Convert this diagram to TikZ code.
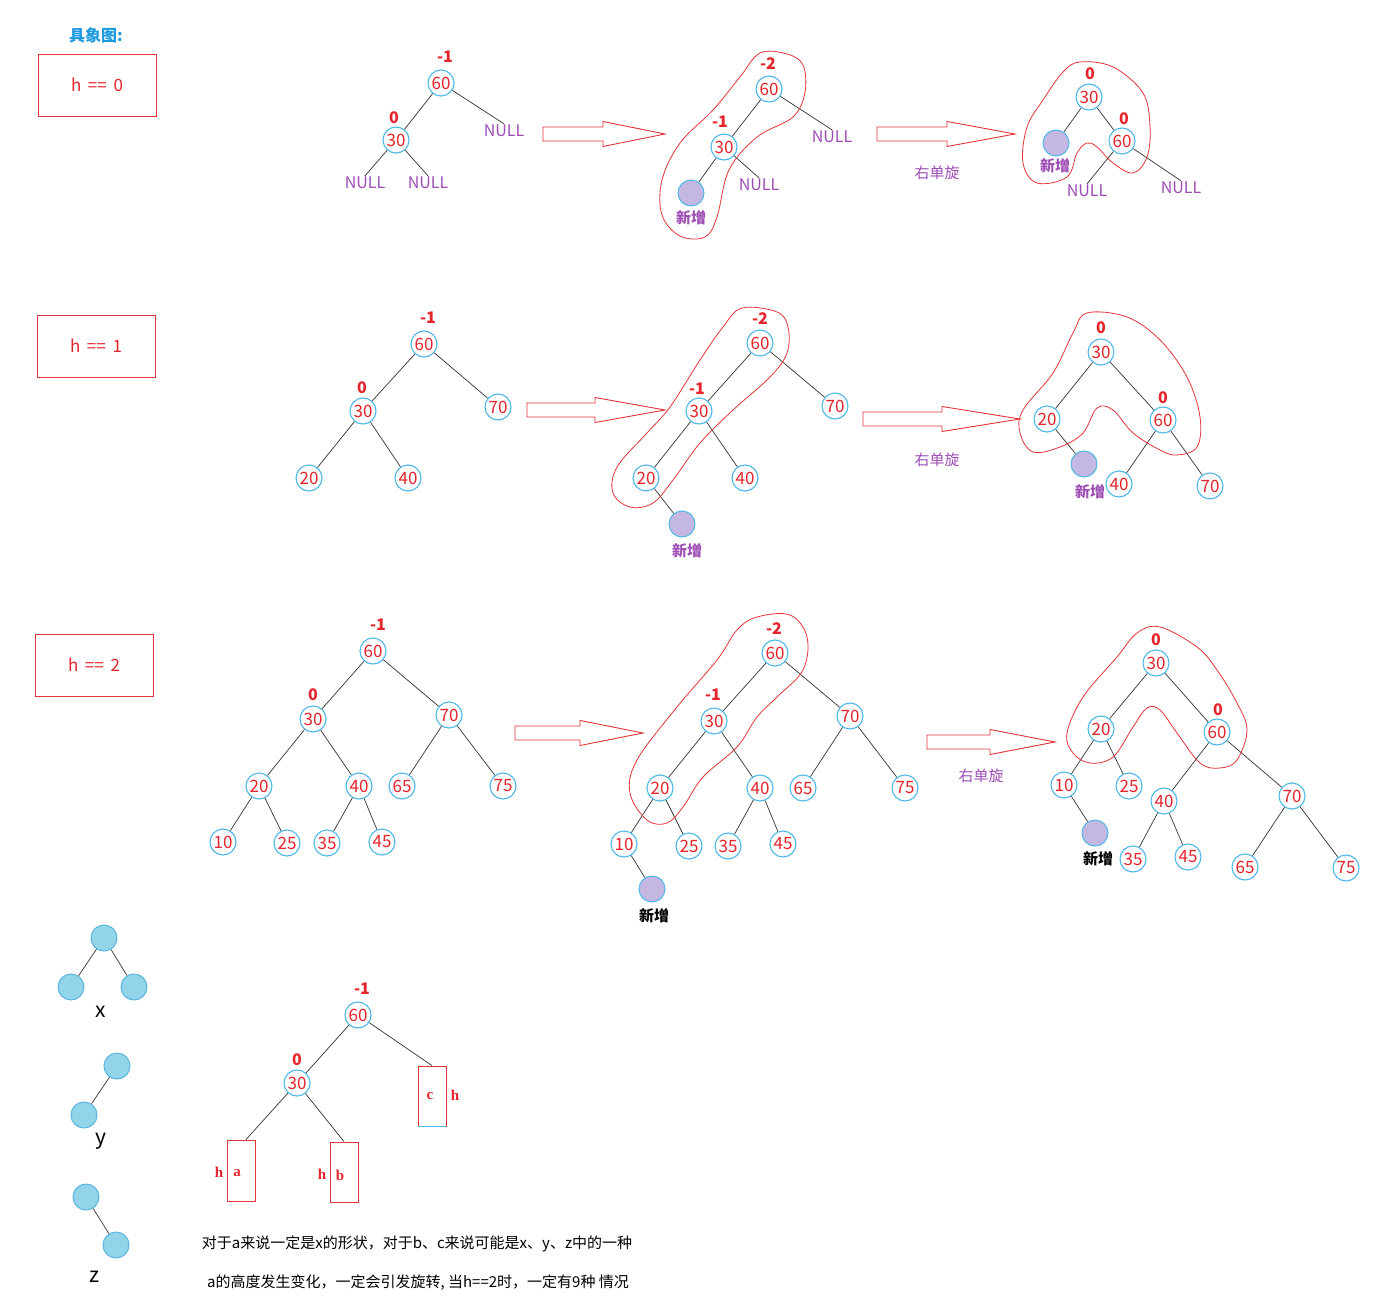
\documentclass[tikz,border=0pt]{standalone}
\usepackage{fontspec}
\setmainfont{Noto Sans CJK SC}
\newfontfamily\serifb{Liberation Serif}
\definecolor{nred}{HTML}{E5242B}
\definecolor{bred}{HTML}{E3343A}
\definecolor{cblue}{HTML}{4DB8E8}
\definecolor{npurp}{HTML}{9E4DB5}
\definecolor{tblue}{HTML}{1E9AE0}
\definecolor{sfill}{HTML}{92D4EA}
\definecolor{sdraw}{HTML}{5BB5DC}
\definecolor{newfill}{HTML}{C4B8E2}
\tikzset{
 num/.style={circle, draw=cblue, line width=1.1pt, text=nred, minimum size=26pt, inner sep=0pt, font=\fontsize{17}{17}\selectfont},
 bal/.style={text=nred, inner sep=0pt, font=\fontsize{16}{16}\selectfont\bfseries},
 nul/.style={text=npurp, inner sep=1pt, font=\fontsize{16}{16}\selectfont},
 newn/.style={circle, draw=cblue, fill=newfill, line width=1pt, minimum size=26pt, inner sep=0pt},
 newl/.style={text=npurp, inner sep=0pt, font=\fontsize{15}{15}\selectfont\bfseries},
 newk/.style={text=black, inner sep=0pt, font=\fontsize{15}{15}\selectfont\bfseries},
 shp/.style={circle, draw=sdraw, fill=sfill, line width=1pt, minimum size=26pt, inner sep=0pt},
 shl/.style={text=black, inner sep=0pt, font=\fontsize{21}{21}\selectfont},
 tedge/.style={draw=black!80, line width=0.7pt},
 blob/.style={draw=bred, line width=0.8pt},
 bigarrow/.style={draw=bred, line width=0.9pt},
 hbox/.style={draw=bred, line width=0.9pt, minimum width=118pt, minimum height=62pt, text=nred, font=\fontsize{17}{17}\selectfont},
 rot/.style={text=npurp, inner sep=0pt, font=\fontsize{15}{15}\selectfont},
 hrect/.style={draw=bred, line width=0.9pt, minimum width=28pt, minimum height=60pt, inner sep=0pt},
 hlet/.style={text=nred, inner sep=0pt, font=\fontsize{15}{15}\selectfont\serifb\bfseries},
 note/.style={text=black, inner sep=0pt, font=\fontsize{15}{15}\selectfont},
}
\newcommand{\hollowarrow}[4]{% x0, xhead, xtip, yc
  \draw[bigarrow] (#1,#4-7) -- (#2,#4-7) -- (#2,#4-12.5) -- (#3,#4) -- (#2,#4+12.5) -- (#2,#4+7) -- (#1,#4+7) -- cycle;}
\begin{document}
\begin{tikzpicture}[x=1pt,y=-1pt]
\useasboundingbox[fill=white] (0,0) rectangle (1400,1306);

% title and boxes
\node[text=tblue, font=\fontsize{16}{16}\selectfont\bfseries] (title) at (96,35) {具象图:};
\node[hbox] (box0) at (97,85) {h\ \,==\ \,0};
\node[hbox] (box1) at (96,346) {h\ \,==\ \,1};
\node[hbox] (box2) at (94,665) {h\ \,==\ \,2};

% ---------- Row 1 ----------
\node[num] (a60) at (441,83) {60};
\node[bal] (a60b) at (445,57) {-1};
\node[num] (a30) at (396,140) {30};
\node[bal] (a30b) at (394,118) {0};
\node[nul] (aN1) at (504,131) {NULL};
\node[nul] (aN2) at (365,183) {NULL};
\node[nul] (aN3) at (428,183) {NULL};
\draw[tedge] (a60) -- (a30);
\draw[tedge] (a60) -- (aN1.north);
\draw[tedge] (a30) -- (aN2.north);
\draw[tedge] (a30) -- (aN3.north);

\hollowarrow{543}{603}{665}{134}

\node[num] (b60) at (769,89) {60};
\node[bal] (b60b) at (768,64) {-2};
\node[num] (b30) at (724,147) {30};
\node[bal] (b30b) at (720,122) {-1};
\node[nul] (bN1) at (832,137) {NULL};
\node[nul] (bN2) at (759,185) {NULL};
\node[newn] (bnew) at (691,193) {};
\node[newl] (bnewl) at (691,218) {新增};
\draw[tedge] (b60) -- (b30);
\draw[tedge] (b60) -- (bN1.north);
\draw[tedge] (b30) -- (bN2.north);
\draw[tedge] (b30) -- (bnew);
\draw[blob] plot[smooth cycle, tension=0.6] coordinates {(760,53) (787,54) (803,65) (805,92) (793,117) (757,137) (729,170) (717,217) (705,237) (680,236) (662,215) (662,180) (680,143) (713,110) (740,77)};

\hollowarrow{877}{947}{1015}{134}
\node[rot] (rot1) at (937,173) {右单旋};

\node[num] (c30) at (1089,97) {30};
\node[bal] (c30b) at (1090,74) {0};
\node[newn] (cnew) at (1056,143) {};
\node[newl] (cnewl) at (1055,166) {新增};
\node[num] (c60) at (1122,141) {60};
\node[bal] (c60b) at (1124,119) {0};
\node[nul] (cN1) at (1087,191) {NULL};
\node[nul] (cN2) at (1181,188) {NULL};
\draw[tedge] (c30) -- (cnew);
\draw[tedge] (c30) -- (c60);
\draw[tedge] (c60) -- (cN1.north);
\draw[tedge] (c60) -- (cN2.north);
\draw[blob] plot[smooth cycle, tension=0.6] coordinates {(1080,62) (1113,67) (1143,93) (1150,127) (1147,157) (1133,173) (1113,163) (1097,147) (1087,143) (1077,153) (1067,177) (1037,183) (1023,163) (1027,127) (1043,100) (1063,72)};

% ---------- Row 2 ----------
\node[num] (d60) at (424,344) {60};
\node[bal] (d60b) at (428,318) {-1};
\node[num] (d30) at (363,411) {30};
\node[bal] (d30b) at (362,388) {0};
\node[num] (d70) at (498,407) {70};
\node[num] (d20) at (309,478) {20};
\node[num] (d40) at (408,478) {40};
\draw[tedge] (d60) -- (d30);
\draw[tedge] (d60) -- (d70);
\draw[tedge] (d30) -- (d20);
\draw[tedge] (d30) -- (d40);

\hollowarrow{527}{595}{665}{410}

\node[num] (e60) at (760,343) {60};
\node[bal] (e60b) at (760,319) {-2};
\node[num] (e30) at (699,411) {30};
\node[bal] (e30b) at (697,389) {-1};
\node[num] (e70) at (835,406) {70};
\node[num] (e20) at (646,478) {20};
\node[num] (e40) at (745,478) {40};
\node[newn] (enew) at (682,524) {};
\node[newl] (enewl) at (687,551) {新增};
\draw[tedge] (e60) -- (e30);
\draw[tedge] (e60) -- (e70);
\draw[tedge] (e30) -- (e20);
\draw[tedge] (e30) -- (e40);
\draw[tedge] (e20) -- (enew);
\draw[blob] plot[smooth cycle, tension=0.6] coordinates {(742,308) (777,312) (788,327) (787,353) (770,377) (733,410) (700,443) (673,480) (653,503) (630,507) (613,493) (617,467) (647,433) (670,407) (700,360) (723,327)};

\hollowarrow{863}{942}{1020}{419}
\node[rot] (rot2) at (937,460) {右单旋};

\node[num] (f30) at (1101,352) {30};
\node[bal] (f30b) at (1101,328) {0};
\node[num] (f20) at (1047,419) {20};
\node[num] (f60) at (1163,420) {60};
\node[bal] (f60b) at (1163,398) {0};
\node[newn] (fnew) at (1084,464) {};
\node[newl] (fnewl) at (1090,492) {新增};
\node[num] (f40) at (1119,484) {40};
\node[num] (f70) at (1210,486) {70};
\draw[tedge] (f30) -- (f20);
\draw[tedge] (f30) -- (f60);
\draw[tedge] (f20) -- (fnew);
\draw[tedge] (f60) -- (f40);
\draw[tedge] (f60) -- (f70);
\draw[blob] plot[smooth cycle, tension=0.6] coordinates {(1087,313) (1127,317) (1160,340) (1187,377) (1200,417) (1197,447) (1177,455) (1160,450) (1133,433) (1113,410) (1097,408) (1083,433) (1060,447) (1033,452) (1020,433) (1023,410) (1053,373) (1073,333)};

% ---------- Row 3 ----------
\node[num] (g60) at (373,651) {60};
\node[bal] (g60b) at (378,625) {-1};
\node[num] (g30) at (313,719) {30};
\node[bal] (g30b) at (313,695) {0};
\node[num] (g70) at (449,715) {70};
\node[num] (g20) at (259,786) {20};
\node[num] (g40) at (359,786) {40};
\node[num] (g65) at (402,786) {65};
\node[num] (g75) at (503,786) {75};
\node[num] (g10) at (223,842) {10};
\node[num] (g25) at (287,843) {25};
\node[num] (g35) at (327,843) {35};
\node[num] (g45) at (382,842) {45};
\draw[tedge] (g60) -- (g30);
\draw[tedge] (g60) -- (g70);
\draw[tedge] (g30) -- (g20);
\draw[tedge] (g30) -- (g40);
\draw[tedge] (g70) -- (g65);
\draw[tedge] (g70) -- (g75);
\draw[tedge] (g20) -- (g10);
\draw[tedge] (g20) -- (g25);
\draw[tedge] (g40) -- (g35);
\draw[tedge] (g40) -- (g45);

\hollowarrow{515}{580}{643}{733}

\node[num] (h60) at (775,653) {60};
\node[bal] (h60b) at (774,629) {-2};
\node[num] (h30) at (714,721) {30};
\node[bal] (h30b) at (713,695) {-1};
\node[num] (h70) at (850,716) {70};
\node[num] (h20) at (660,788) {20};
\node[num] (h40) at (760,788) {40};
\node[num] (h65) at (803,788) {65};
\node[num] (h75) at (905,788) {75};
\node[num] (h10) at (624,844) {10};
\node[num] (h25) at (689,846) {25};
\node[num] (h35) at (728,846) {35};
\node[num] (h45) at (783,844) {45};
\node[newn] (hnew) at (652,889) {};
\node[newk] (hnewl) at (654,916) {新增};
\draw[tedge] (h60) -- (h30);
\draw[tedge] (h60) -- (h70);
\draw[tedge] (h30) -- (h20);
\draw[tedge] (h30) -- (h40);
\draw[tedge] (h70) -- (h65);
\draw[tedge] (h70) -- (h75);
\draw[tedge] (h20) -- (h10);
\draw[tedge] (h20) -- (h25);
\draw[tedge] (h40) -- (h35);
\draw[tedge] (h40) -- (h45);
\draw[tedge] (h10) -- (hnew);
\draw[blob] plot[smooth cycle, tension=0.6] coordinates {(757,617) (790,615) (807,637) (803,670) (777,697) (757,717) (737,747) (703,777) (683,807) (667,823) (647,820) (630,793) (637,760) (677,707) (717,660) (737,630)};

\hollowarrow{927}{990}{1055}{742}
\node[rot] (rot3) at (981,776) {右单旋};

\node[num] (i30) at (1156,663) {30};
\node[bal] (i30b) at (1156,640) {0};
\node[num] (i20) at (1101,729) {20};
\node[num] (i60) at (1217,732) {60};
\node[bal] (i60b) at (1218,710) {0};
\node[num] (i10) at (1064,785) {10};
\node[num] (i25) at (1129,786) {25};
\node[num] (i40) at (1164,801) {40};
\node[num] (i70) at (1292,796) {70};
\node[newn] (inew) at (1095,833) {};
\node[newk] (inewl) at (1098,859) {新增};
\node[num] (i35) at (1133,859) {35};
\node[num] (i45) at (1188,857) {45};
\node[num] (i65) at (1245,867) {65};
\node[num] (i75) at (1346,868) {75};
\draw[tedge] (i30) -- (i20);
\draw[tedge] (i30) -- (i60);
\draw[tedge] (i20) -- (i10);
\draw[tedge] (i20) -- (i25);
\draw[tedge] (i10) -- (inew);
\draw[tedge] (i60) -- (i40);
\draw[tedge] (i60) -- (i70);
\draw[tedge] (i40) -- (i35);
\draw[tedge] (i40) -- (i45);
\draw[tedge] (i70) -- (i65);
\draw[tedge] (i70) -- (i75);
\draw[blob] plot[smooth cycle, tension=0.6] coordinates {(1160,627) (1197,647) (1217,670) (1237,703) (1247,730) (1237,760) (1220,768) (1200,763) (1177,733) (1160,710) (1147,708) (1133,727) (1113,757) (1090,763) (1073,753) (1067,733) (1083,697) (1117,657) (1137,633)};

% ---------- Bottom: shapes ----------
\node[shp] (x1) at (104,938) {};
\node[shp] (x2) at (71,987) {};
\node[shp] (x3) at (134,987) {};
\node[shl] (xl) at (101,1012) {x};
\draw[tedge] (x1) -- (x2);
\draw[tedge] (x1) -- (x3);
\node[shp] (y1) at (117,1066) {};
\node[shp] (y2) at (84,1115) {};
\node[shl] (yl) at (101,1141) {y};
\draw[tedge] (y1) -- (y2);
\node[shp] (z1) at (86,1197) {};
\node[shp] (z2) at (116,1245) {};
\node[shl] (zl) at (94,1277) {z};
\draw[tedge] (z1) -- (z2);

% ---------- Bottom: tree ----------
\node[num] (j60) at (358,1015) {60};
\node[bal] (j60b) at (362,989) {-1};
\node[num] (j30) at (297,1083) {30};
\node[bal] (j30b) at (297,1060) {0};
\node[hrect] (jc) at (432,1096) {};
\draw[cblue, line width=0.9pt] (jc.south west) -- (jc.south east);
\node[hlet] (jcl) at (430,1096) {c};
\node[hlet] (jch) at (455,1095) {h};
\node[hrect, minimum height=61pt] (ja) at (241,1170.5) {};
\node[hlet] (jal) at (237,1173) {a};
\node[hlet] (jah) at (219,1172) {h};
\node[hrect] (jb) at (344,1172) {};
\node[hlet] (jbl) at (340,1175) {b};
\node[hlet] (jbh) at (322,1174) {h};
\draw[tedge] (j60) -- (j30);
\draw[tedge] (j60) -- (jc.north);
\draw[tedge] (j30) -- ([xshift=5pt]ja.north);
\draw[tedge] (j30) -- (jb.north);

\node[note] (n1) at (417,1244) {对于a来说一定是x的形状，对于b、c来说可能是x、y、z中的一种};
\node[note] (n2) at (418,1283) {a的高度发生变化，一定会引发旋转, 当h==2时，一定有9种 情况};
\end{tikzpicture}
\end{document}
